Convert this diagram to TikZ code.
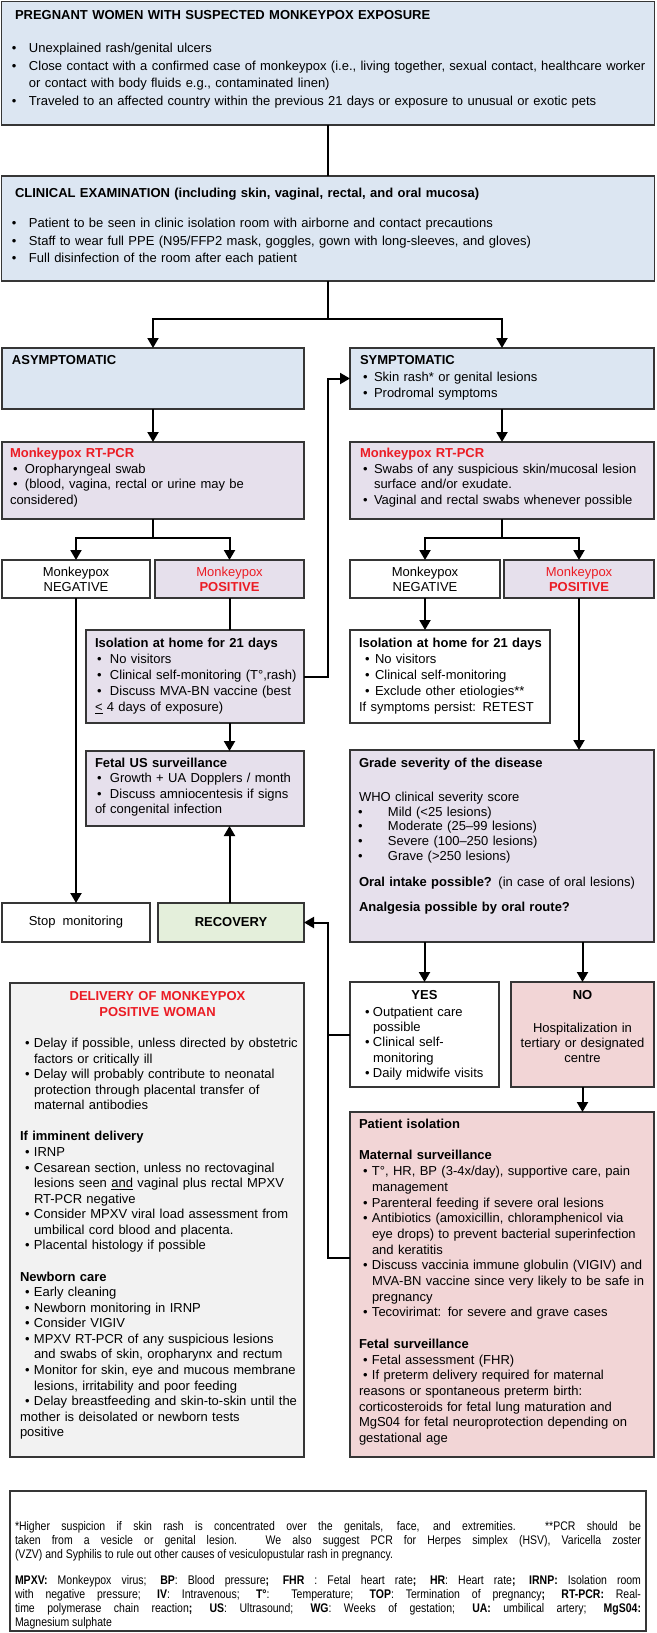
\documentclass[tikz,border=0pt]{standalone}
\usepackage{fontspec}
\setmainfont{Liberation Sans}
\newfontfamily\footfont[FakeStretch=0.84]{Liberation Sans}
\usetikzlibrary{arrows.meta,calc}
\definecolor{bxblue}{HTML}{DCE6F2}
\definecolor{bxpurple}{HTML}{E6E0EC}
\definecolor{bxgreen}{HTML}{E4EFDB}
\definecolor{bxpink}{HTML}{F2D5D6}
\definecolor{bxgray}{HTML}{F2F2F2}
\definecolor{bxline}{HTML}{363636}
\definecolor{mred}{RGB}{235,28,36}
\newlength\bo \newlength\bi
\newif\iffirstitem
\newcommand\startitem{\iffirstitem\global\firstitemfalse\leavevmode\else\par\noindent\fi}
\newcommand\bul[1]{\startitem\hangindent=\bi\hangafter=1\hbox to\bi{\hskip\bo\textbullet\hfil}#1}
\newcommand\pl[1]{\startitem#1}
\newcommand\blank{\par\noindent\mbox{}}
\newcommand\gap[1]{\par\vspace{#1}}
\newcommand\fs[2]{\fontsize{#1}{#2}\selectfont}
\newcommand\mkbox[7]{\node[bxs,fill=#6,minimum width={(#4-#2)*1pt},minimum height={(#5-#3)*1pt}] (#1) at ({(#2+#4)/2},{(#3+#5)/2}) {#7};}
\begin{document}
\begin{tikzpicture}[x=1pt,y=-1pt,
  bxs/.style={draw=bxline,line width=1.3pt,inner sep=0pt,outer sep=0pt,align=center,font=\fs{13}{15}},
  txt/.style={anchor=base west,inner sep=0pt,outer sep=0pt,text width=300pt,execute at begin node={\global\firstitemtrue}},
  ctxt/.style={anchor=base,inner sep=0pt,outer sep=0pt,align=center,text width=260pt},
  conn/.style={line width=2pt,draw=black},
  arr/.style={conn,-{Triangle[length=10pt,width=11pt]}}]
\path[use as bounding box,fill=white] (0,0) rectangle (656,1633);
% boxes
\mkbox{top}{1.5}{1.5}{654.5}{125}{bxblue}{}
\mkbox{clin}{1.5}{176}{654.5}{281}{bxblue}{}
\mkbox{asym}{2}{348}{304}{409}{bxblue}{}
\mkbox{symp}{350}{348}{654}{409}{bxblue}{}
\mkbox{pcrL}{2}{442}{304}{519}{bxpurple}{}
\mkbox{pcrR}{350}{442}{654}{519}{bxpurple}{}
\mkbox{negL}{2}{560}{150}{598}{white}{Monkeypox\\NEGATIVE}
\mkbox{posL}{155}{560}{304}{598}{bxpurple}{\textcolor{mred}{Monkeypox}\\\textcolor{mred}{\textbf{POSITIVE}}}
\mkbox{isoL}{86}{630}{304}{723}{bxpurple}{}
\mkbox{fetal}{86}{751}{304}{826}{bxpurple}{}
\mkbox{stop}{2}{903}{150}{942}{white}{Stop\hspace{7pt}monitoring}
\mkbox{recov}{158}{903}{304}{942}{bxgreen}{\textbf{RECOVERY}}
\mkbox{negR}{350}{560}{500}{598}{white}{Monkeypox\\NEGATIVE}
\mkbox{posR}{504}{560}{654}{598}{bxpurple}{\textcolor{mred}{Monkeypox}\\\textcolor{mred}{\textbf{POSITIVE}}}
\mkbox{isoR}{350}{630}{550}{723}{white}{}
\mkbox{grade}{350}{750}{654}{942}{bxpurple}{}
\mkbox{yes}{350}{982}{499}{1087}{white}{}
\mkbox{no}{511}{982}{654}{1087}{bxpink}{}
\mkbox{piso}{350}{1112}{654}{1457}{bxpink}{}
\mkbox{deliv}{10}{983}{304}{1457}{bxgray}{}
\mkbox{foot}{10}{1491}{646}{1631}{white}{}
% texts
\node[txt,font=\fs{13}{17.7}\bfseries,text width=640pt] (toph) at (15,19.7) {PREGNANT WOMEN WITH SUSPECTED MONKEYPOX EXPOSURE};
\node[txt,font=\fs{13}{17.7},text width=640pt] (topb) at (12,52.5) {\setlength\bo{0pt}\setlength\bi{17pt}%
\bul{Unexplained rash/genital ulcers}%
\bul{Close contact with a confirmed case of monkeypox (i.e., living together, sexual contact, healthcare worker\newline or contact with body fluids e.g., contaminated linen)}%
\bul{Traveled to an affected country within the previous 21 days or exposure to unusual or exotic pets}};
\node[txt,font=\fs{13}{17.5}\bfseries,text width=640pt] (clinh) at (15,197.5) {CLINICAL EXAMINATION (including skin, vaginal, rectal, and oral mucosa)};
\node[txt,font=\fs{13}{17.5},text width=640pt] (clinb) at (12,227.5) {\setlength\bo{0pt}\setlength\bi{17pt}%
\bul{Patient to be seen in clinic isolation room with airborne and contact precautions}%
\bul{Staff to wear full PPE (N95/FFP2 mask, goggles, gown with long-sleeves, and gloves)}%
\bul{Full disinfection of the room after each patient}};
\node[txt,font=\fs{13}{16}\bfseries] (asymh) at (12,364.5) {ASYMPTOMATIC};
\node[txt,font=\fs{13}{16.5}] (sympt) at (360,364.5) {\setlength\bo{3pt}\setlength\bi{14pt}%
\pl{\textbf{SYMPTOMATIC}}%
\bul{Skin rash* or genital lesions}%
\bul{Prodromal symptoms}};
\node[txt,font=\fs{13}{15.5}] (pcrLt) at (10,457.5) {\setlength\bo{3pt}\setlength\bi{15pt}%
\pl{\textcolor{mred}{\textbf{Monkeypox RT-PCR}}}%
\bul{Oropharyngeal swab}%
\bul{(blood, vagina, rectal or urine may be\newline considered)}};
\node[txt,font=\fs{13}{15.5}] (pcrRt) at (360,457.5) {\setlength\bo{3pt}\setlength\bi{14pt}%
\pl{\textcolor{mred}{\textbf{Monkeypox RT-PCR}}}%
\bul{Swabs of any suspicious skin/mucosal lesion\newline surface and/or exudate.}%
\bul{Vaginal and rectal swabs whenever possible}};
\node[txt,font=\fs{13}{16}] (isoLt) at (95,647.5) {\setlength\bo{2pt}\setlength\bi{15pt}%
\pl{\textbf{Isolation at home for 21 days}}%
\bul{No visitors}%
\bul{Clinical self-monitoring (T°,rash)}%
\bul{Discuss MVA-BN vaccine (best\newline \underline{<} 4 days of exposure)}};
\node[txt,font=\fs{13}{15.4}] (fetalt) at (95,767.5) {\setlength\bo{2pt}\setlength\bi{15pt}%
\pl{\textbf{Fetal US surveillance}}%
\bul{Growth + UA Dopplers / month}%
\bul{Discuss amniocentesis if signs\newline of congenital infection}};
\node[txt,font=\fs{13}{16}] (isoRt) at (359,647.5) {\setlength\bo{6pt}\setlength\bi{16pt}%
\pl{\textbf{Isolation at home for 21 days}}%
\bul{No visitors}%
\bul{Clinical self-monitoring}%
\bul{Exclude other etiologies**}%
\pl{If symptoms persist: RETEST}};
\node[txt,font=\fs{13}{14.7}] (gradet) at (359,767.5) {\setlength\bo{-1pt}\setlength\bi{29pt}%
\pl{\textbf{Grade severity of the disease}}%
\gap{19.3pt}%
\pl{WHO clinical severity score}%
\bul{Mild (<25 lesions)}%
\bul{Moderate (25–99 lesions)}%
\bul{Severe (100–250 lesions)}%
\bul{Grave (>250 lesions)}%
\gap{11.3pt}%
\pl{\textbf{Oral intake possible?} (in case of oral lesions)}%
\gap{10.3pt}%
\pl{\textbf{Analgesia possible by oral route?}}};
\node[ctxt,font=\fs{13}{15}\bfseries,text width=140pt] (yesh) at (424.5,999.5) {YES};
\node[txt,font=\fs{13}{15.2}] (yest) at (365,1016.5) {\setlength\bo{0pt}\setlength\bi{8pt}%
\bul{Outpatient care\newline possible}%
\bul{Clinical self-\newline monitoring}%
\bul{Daily midwife visits}};
\node[ctxt,font=\fs{13}{15}\bfseries,text width=140pt] (noh) at (582.5,999.5) {NO};
\node[ctxt,font=\fs{13}{15},text width=140pt] (not) at (582.5,1032.5) {Hospitalization in\\tertiary or designated\\centre};
\node[txt,font=\fs{13}{15.7}] (pisot) at (359,1128.5) {\setlength\bo{4pt}\setlength\bi{13pt}%
\pl{\textbf{Patient isolation}}%
\blank
\pl{\textbf{Maternal surveillance}}%
\bul{T°, HR, BP (3-4x/day), supportive care, pain\newline management}%
\bul{Parenteral feeding if severe oral lesions}%
\bul{Antibiotics (amoxicillin, chloramphenicol via\newline eye drops) to prevent bacterial superinfection\newline and keratitis}%
\bul{Discuss vaccinia immune globulin (VIGIV) and\newline MVA-BN vaccine since very likely to be safe in\newline pregnancy}%
\bul{Tecovirimat: for severe and grave cases}%
\blank
\pl{\textbf{Fetal surveillance}}%
\bul{Fetal assessment (FHR)}%
\bul{If preterm delivery required for maternal\newline reasons or spontaneous preterm birth:\newline corticosteroids for fetal lung maturation and\newline MgS04 for fetal neuroprotection depending on\newline gestational age}};
\node[ctxt,font=\fs{13}{15.6}\bfseries,text=mred,text width=280pt] (delivh) at (157.5,1000.5) {DELIVERY OF MONKEYPOX\\POSITIVE WOMAN};
\node[txt,font=\fs{13}{15.57},text width=290pt] (delivt) at (20,1047.5) {\setlength\bo{5pt}\setlength\bi{14pt}%
\bul{Delay if possible, unless directed by obstetric\newline factors or critically ill}%
\bul{Delay will probably contribute to neonatal\newline protection through placental transfer of\newline maternal antibodies}%
\blank
\pl{\textbf{If imminent delivery}}%
\bul{IRNP}%
\bul{Cesarean section, unless no rectovaginal\newline lesions seen \underline{and} vaginal plus rectal MPXV\newline RT-PCR negative}%
\bul{Consider MPXV viral load assessment from\newline umbilical cord blood and placenta.}%
\bul{Placental histology if possible}%
\blank
\pl{\textbf{Newborn care}}%
\bul{Early cleaning}%
\bul{Newborn monitoring in IRNP}%
\bul{Consider VIGIV}%
\bul{MPXV RT-PCR of any suspicious lesions\newline and swabs of skin, oropharynx and rectum}%
\bul{Monitor for skin, eye and mucous membrane\newline lesions, irritability and poor feeding}%
\bul{Delay breastfeeding and skin-to-skin until the\newline mother is deisolated or newborn tests\newline positive}};
\node[txt,align=justify,font=\footfont\fs{12.5}{14},text width=626pt] (foott) at (15,1530) {\tolerance=10000\hbadness=10000%
*Higher suspicion if skin rash is concentrated over the genitals, face, and extremities. **PCR should be\linebreak taken from a vesicle or genital lesion. We also suggest PCR for Herpes simplex (HSV), Varicella zoster\linebreak (VZV) and Syphilis to rule out other causes of vesiculopustular rash in pregnancy.\par\vspace{12pt}%
\textbf{MPXV:} Monkeypox virus; \textbf{BP}: Blood pressure\textbf{; FHR} : Fetal heart rate\textbf{;} \textbf{HR}: Heart rate\textbf{;} \textbf{IRNP:} Isolation room\linebreak with negative pressure; \textbf{IV}: Intravenous; \textbf{T°}: Temperature; \textbf{TOP}: Termination of pregnancy\textbf{; RT-PCR:} Real-\linebreak time polymerase chain reaction\textbf{; US}: Ultrasound; \textbf{WG}: Weeks of gestation; \textbf{UA:} umbilical artery; \textbf{MgS04:}\linebreak Magnesium sulphate};
% connectors
\coordinate (rr) at (327.5,0);
\draw[conn] (top.south) -- (clin.north);
\draw[conn] (clin.south) -- ++(0,38) coordinate (s1);
\draw[arr] (s1) -| (asym.north);
\draw[arr] (s1) -| (symp.north);
\draw[arr] (asym.south) -- (pcrL.north);
\draw[arr] (symp.south) -- (pcrR.north);
\draw[conn] (pcrL.south) -- ++(0,19) coordinate (s2);
\draw[arr] (s2) -| (negL.north);
\draw[arr] (s2) -| (posL.north);
\draw[conn] (pcrR.south) -- ++(0,19) coordinate (s3);
\draw[arr] (s3) -| (negR.north);
\draw[arr] (s3) -| (posR.north);
\draw[conn] (posL.south) -- (posL.south |- isoL.north);
\draw[arr] (isoL.east) -| (rr |- symp.west) -- (symp.west);
\draw[arr] (posL.south |- isoL.south) -- (posL.south |- fetal.north);
\draw[arr] (negL.south) -- (stop.north);
\draw[arr] (posL.south |- recov.north) -- (posL.south |- fetal.south);
\draw[arr] (negR.south) -- (negR.south |- isoR.north);
\draw[arr] (posR.south) -- (posR.south |- grade.north);
\draw[arr] (yes.north |- grade.south) -- (yes.north);
\draw[arr] (no.north |- grade.south) -- (no.north);
\draw[arr] (no.south) -- (no.south |- piso.north);
\coordinate (pin) at (350,1258);
\draw[arr] (pin) -- (pin -| rr) -- (rr |- recov.east) -- (recov.east);
\draw[conn] (yes.west) -- (yes.west -| rr);
\end{tikzpicture}
\end{document}
